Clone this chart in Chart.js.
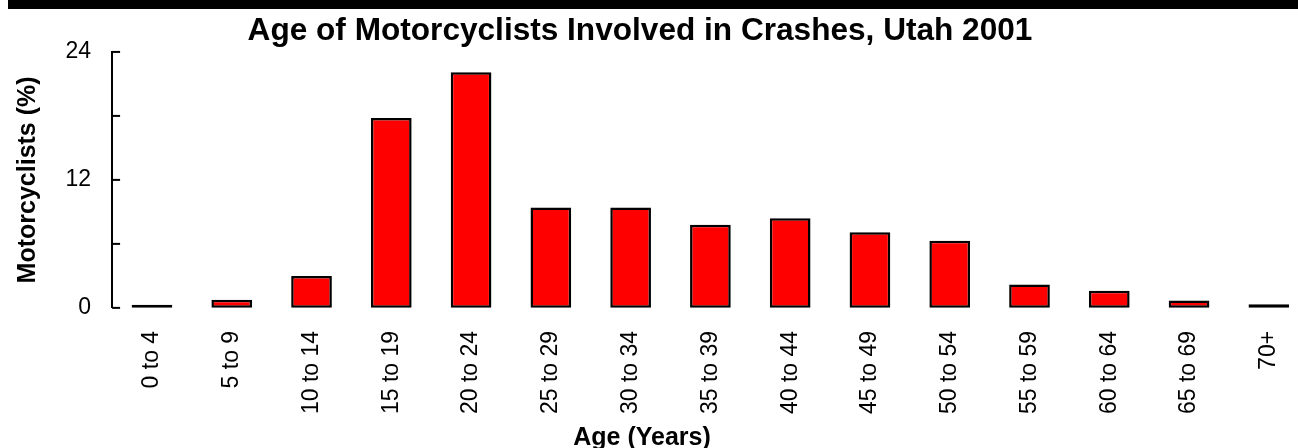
<!DOCTYPE html>
<html>
<head>
<meta charset="utf-8">
<script src="https://cdn.jsdelivr.net/npm/chart.js@4/dist/chart.umd.min.js"></script>
<style>
  body { margin: 0; background: #fff; }
  #wrap { position: relative; width: 1298px; height: 448px; }
  #band { position: absolute; left: 8px; top: 0; width: 1290px; height: 9px; background: #000; }
</style>
</head>
<body>
<div id="wrap">
  <div id="band"></div>
  <canvas id="grafico"></canvas>
</div>
<script>
// datos del grafico
const edades = ['0 to 4', '5 to 9', '10 to 14', '15 to 19', '20 to 24', '25 to 29', '30 to 34',
  '35 to 39', '40 to 44', '45 to 49', '50 to 54', '55 to 59', '60 to 64', '65 to 69', '70+'];
const porcentajes = [0.3, 0.75, 3.0, 17.8, 22.1, 9.4, 9.4, 7.8, 8.4, 7.1, 6.3, 2.2, 1.6, 0.7, 0.35];
const marcasY = [0, 6, 12, 18, 24];
const etiquetasY = [0, 12, 24];

const fuente = "'Liberation Sans', Arial, sans-serif";

// marcas del eje y hacia adentro + titulo del eje x centrado como el titulo
const extras = {
  id: 'extras',
  afterDraw(chart) {
    const ctx = chart.ctx;
    const y = chart.scales.y;
    ctx.save();
    ctx.strokeStyle = '#000';
    ctx.lineWidth = 2;
    marcasY.forEach(function (v) {
      const py = y.getPixelForValue(v);
      ctx.beginPath();
      ctx.moveTo(y.right, py);
      ctx.lineTo(y.right + 8, py);
      ctx.stroke();
    });

    const t = chart.titleBlock;
    ctx.fillStyle = '#000';
    ctx.font = 'bold 25px ' + fuente;
    ctx.textAlign = 'center';
    ctx.textBaseline = 'middle';
    ctx.fillText('Age (Years)', (t.left + t.right) / 2 + 2, chart.height - 9.5);
    ctx.restore();
  }
};

const ctx = document.getElementById('grafico').getContext('2d');
const grafico = new Chart(ctx, {
  type: 'bar',
  data: {
    datasets: [{
      data: porcentajes.map(function (v, i) { return { x: i, y: v }; }),
      backgroundColor: '#ff0000',
      borderColor: '#000',
      borderWidth: 2.5,
      borderSkipped: false,
      barPercentage: 0.51,
      categoryPercentage: 1,
      clip: false
    }]
  },
  options: {
    responsive: true,
    maintainAspectRatio: false,
    animation: false,
    layout: { padding: { left: 0, right: 18, top: 0, bottom: 11 } },
    plugins: {
      legend: { display: false },
      tooltip: { enabled: false },
      title: {
        display: true,
        text: 'Age of Motorcyclists Involved in Crashes, Utah 2001',
        color: '#000',
        font: { family: fuente, size: 31.6, weight: 'bold' },
        padding: { top: 12, bottom: 2 }
      }
    },
    scales: {
      x: {
        type: 'linear',
        offset: false,
        min: -0.5,
        max: 14.14,
        grid: { display: false, drawTicks: false },
        border: { display: false },
        afterBuildTicks: function (scale) {
          scale.ticks = edades.map(function (e, i) { return { value: i }; });
        },
        afterFit: function (scale) {
          scale.paddingLeft = 0;
          scale.paddingRight = 0;
        },
        ticks: {
          autoSkip: false,
          minRotation: 90,
          maxRotation: 90,
          padding: 23,
          color: '#000',
          font: { family: fuente, size: 23 },
          callback: function (v) { return edades[v]; }
        }
      },
      y: {
        min: 0,
        max: 24,
        grid: { display: false, drawTicks: false },
        border: { display: true, color: '#000', width: 2 },
        ticks: {
          stepSize: 6,
          padding: 21,
          color: '#000',
          font: { family: fuente, size: 23 },
          callback: function (v) { return etiquetasY.includes(v) ? v : ''; }
        },
        title: {
          display: true,
          text: 'Motorcyclists (%)',
          color: '#000',
          font: { family: fuente, size: 25, weight: 'bold', lineHeight: 1 },
          padding: { top: 16, bottom: 3.5 }
        }
      }
    }
  },
  plugins: [extras]
});
</script>
</body>
</html>
